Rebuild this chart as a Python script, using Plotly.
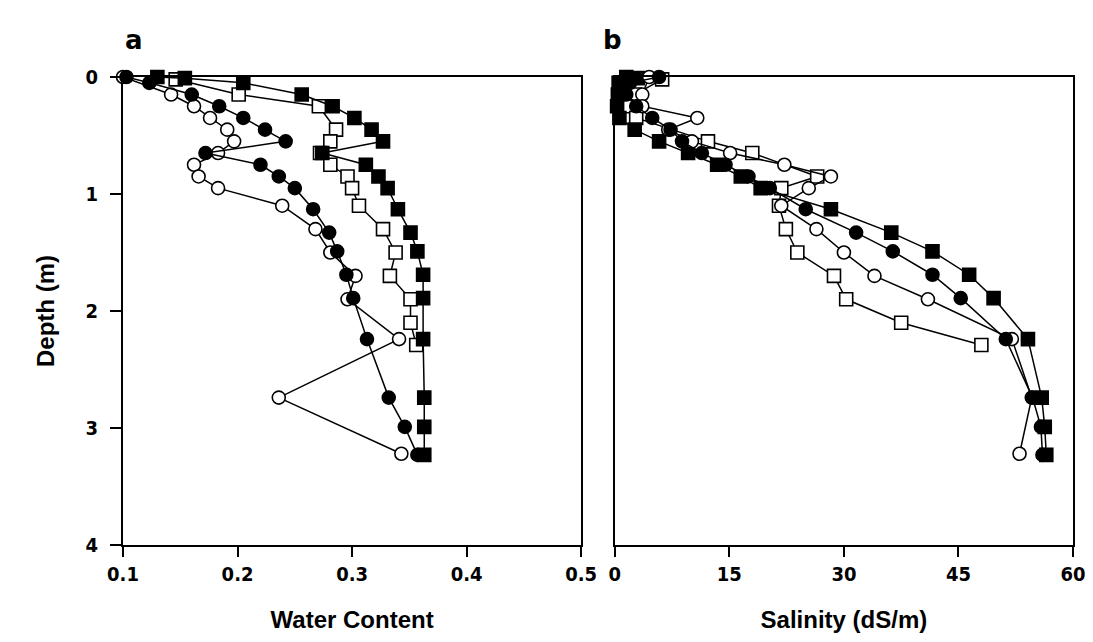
import plotly.graph_objects as go
from plotly.subplots import make_subplots

# ---- Panel a: water content ----
fs_depth_a = [0, 0.01, 0.05, 0.15, 0.25, 0.35, 0.45, 0.55, 0.65, 0.75, 0.85, 0.95, 1.13, 1.33, 1.49, 1.69, 1.89, 2.24, 2.74, 2.99, 3.23]
fs_wc = [0.130, 0.154, 0.205, 0.256, 0.283, 0.302, 0.317, 0.327, 0.274, 0.312, 0.323, 0.331, 0.340, 0.351, 0.357, 0.362, 0.362, 0.362, 0.363, 0.363, 0.363]

os_depth_a = [0.02, 0.15, 0.25, 0.45, 0.55, 0.65, 0.75, 0.85, 0.95, 1.10, 1.30, 1.50, 1.70, 1.90, 2.10, 2.29]
os_wc = [0.146, 0.201, 0.271, 0.286, 0.281, 0.272, 0.281, 0.296, 0.300, 0.306, 0.327, 0.338, 0.333, 0.351, 0.351, 0.356]

fc_depth_a = [0.0, 0.05, 0.15, 0.25, 0.35, 0.45, 0.55, 0.65, 0.75, 0.85, 0.95, 1.13, 1.33, 1.49, 1.69, 1.89, 2.24, 2.74, 2.99, 3.23]
fc_wc = [0.103, 0.123, 0.160, 0.184, 0.205, 0.224, 0.242, 0.172, 0.220, 0.236, 0.250, 0.266, 0.280, 0.287, 0.295, 0.301, 0.313, 0.332, 0.346, 0.357]

oc_depth_a = [0.0, 0.15, 0.25, 0.35, 0.45, 0.55, 0.65, 0.75, 0.85, 0.95, 1.10, 1.30, 1.50, 1.70, 1.90, 2.24, 2.74, 3.22]
oc_wc = [0.100, 0.142, 0.162, 0.176, 0.191, 0.197, 0.183, 0.162, 0.166, 0.183, 0.239, 0.268, 0.281, 0.303, 0.296, 0.341, 0.236, 0.343]

# ---- Panel b: salinity ----
fs_depth_b = [0, 0.01, 0.05, 0.15, 0.25, 0.35, 0.45, 0.55, 0.65, 0.75, 0.85, 0.95, 1.13, 1.33, 1.49, 1.69, 1.89, 2.24, 2.74, 2.99, 3.23]
fs_sal = [1.5, 3.0, 0.5, 0.4, 0.3, 0.6, 2.6, 5.8, 9.6, 13.4, 16.5, 19.1, 28.3, 36.2, 41.6, 46.4, 49.6, 54.1, 55.9, 56.3, 56.5]

os_depth_b = [0.02, 0.15, 0.25, 0.35, 0.55, 0.65, 0.85, 0.95, 1.10, 1.30, 1.50, 1.70, 1.90, 2.10, 2.29]
os_sal = [6.2, 2.6, 1.5, 2.8, 12.2, 18.0, 26.5, 21.8, 21.5, 22.4, 23.9, 28.7, 30.3, 37.5, 48.0]

fc_depth_b = [0.0, 0.05, 0.15, 0.25, 0.35, 0.45, 0.55, 0.65, 0.75, 0.85, 0.95, 1.13, 1.33, 1.49, 1.69, 1.89, 2.24, 2.74, 2.99, 3.23]
fc_sal = [5.8, 2.0, 1.5, 2.8, 4.9, 7.3, 8.8, 11.4, 14.5, 17.5, 20.3, 25.0, 31.6, 36.4, 41.6, 45.3, 51.2, 54.7, 55.8, 56.0]

oc_depth_b = [0.0, 0.15, 0.25, 0.35, 0.45, 0.55, 0.65, 0.75, 0.85, 0.95, 1.10, 1.30, 1.50, 1.70, 1.90, 2.24, 2.74, 3.22]
oc_sal = [4.5, 3.6, 3.6, 10.8, 7.0, 10.1, 15.1, 22.2, 28.3, 25.4, 21.8, 26.4, 30.0, 34.0, 41.0, 52.0, 54.6, 53.0]

x_ticks_a = [0.1, 0.2, 0.3, 0.4, 0.5]
x_ticks_b = [0, 15, 30, 45, 60]
y_ticks = [0, 1, 2, 3, 4]

fig = make_subplots(rows=1, cols=2, horizontal_spacing=0.0354)

def add(x, y, symbol, fill, col):
    fig.add_trace(go.Scatter(
        x=x, y=y, mode="lines+markers", cliponaxis=False, showlegend=False,
        line=dict(color="black", width=1.5),
        marker=dict(symbol=symbol, size=13, color=fill, line=dict(color="black", width=1.6)),
    ), row=1, col=col)

add(os_wc, os_depth_a, "square", "white", 1)
add(fs_wc, fs_depth_a, "square", "black", 1)
add(oc_wc, oc_depth_a, "circle", "white", 1)
add(fc_wc, fc_depth_a, "circle", "black", 1)

add(os_sal, os_depth_b, "square", "white", 2)
add(fs_sal, fs_depth_b, "square", "black", 2)
add(oc_sal, oc_depth_b, "circle", "white", 2)
add(fc_sal, fc_depth_b, "circle", "black", 2)

tickfont = dict(family="DejaVu Sans Condensed, DejaVu Sans", size=20, color="black", weight="bold")
titlefont = dict(family="Liberation Sans, Arial", size=24, color="black", weight="bold")

common_ax = dict(showgrid=False, zeroline=False, showline=True, linecolor="black", linewidth=2,
                 mirror=True, tickwidth=1.5, tickcolor="black", tickfont=tickfont)

fig.update_xaxes(range=[0.1, 0.5], tickvals=x_ticks_a, ticktext=[str(v) for v in x_ticks_a],
                 ticks="outside", ticklen=10, ticklabelstandoff=0,
                 title=dict(text="Water Content", font=titlefont, standoff=26), row=1, col=1, **common_ax)
fig.update_xaxes(range=[0, 60], tickvals=x_ticks_b, ticktext=[str(v) for v in x_ticks_b],
                 ticks="outside", ticklen=10, ticklabelstandoff=0,
                 title=dict(text="Salinity (dS/m)", font=titlefont, standoff=26), row=1, col=2, **common_ax)
fig.update_yaxes(range=[4, 0], tickvals=y_ticks, ticks="outside", ticklen=11, ticklabelstandoff=8, row=1, col=1,
                 title=dict(text="Depth (m)", font=titlefont, standoff=24), **common_ax)
fig.update_yaxes(range=[4, 0], tickvals=y_ticks, showticklabels=False, ticks="", row=1, col=2, **common_ax)

fig.update_layout(
    width=1093, height=642,
    margin=dict(l=115, r=18, t=69, b=105),
    plot_bgcolor="white", paper_bgcolor="white",
    annotations=[
        dict(text="<b>a</b>", x=0.0, y=1.0, xref="paper", yref="paper", xshift=0, yshift=20,
             xanchor="left", yanchor="bottom",
             showarrow=False, font=dict(family="DejaVu Sans", size=26, color="black")),
        dict(text="<b>b</b>", x=0.5177, y=1.0, xref="paper", yref="paper", xshift=-14, yshift=20,
             xanchor="left", yanchor="bottom",
             showarrow=False, font=dict(family="DejaVu Sans", size=26, color="black")),
    ],
)

fig.write_html("out.html")
